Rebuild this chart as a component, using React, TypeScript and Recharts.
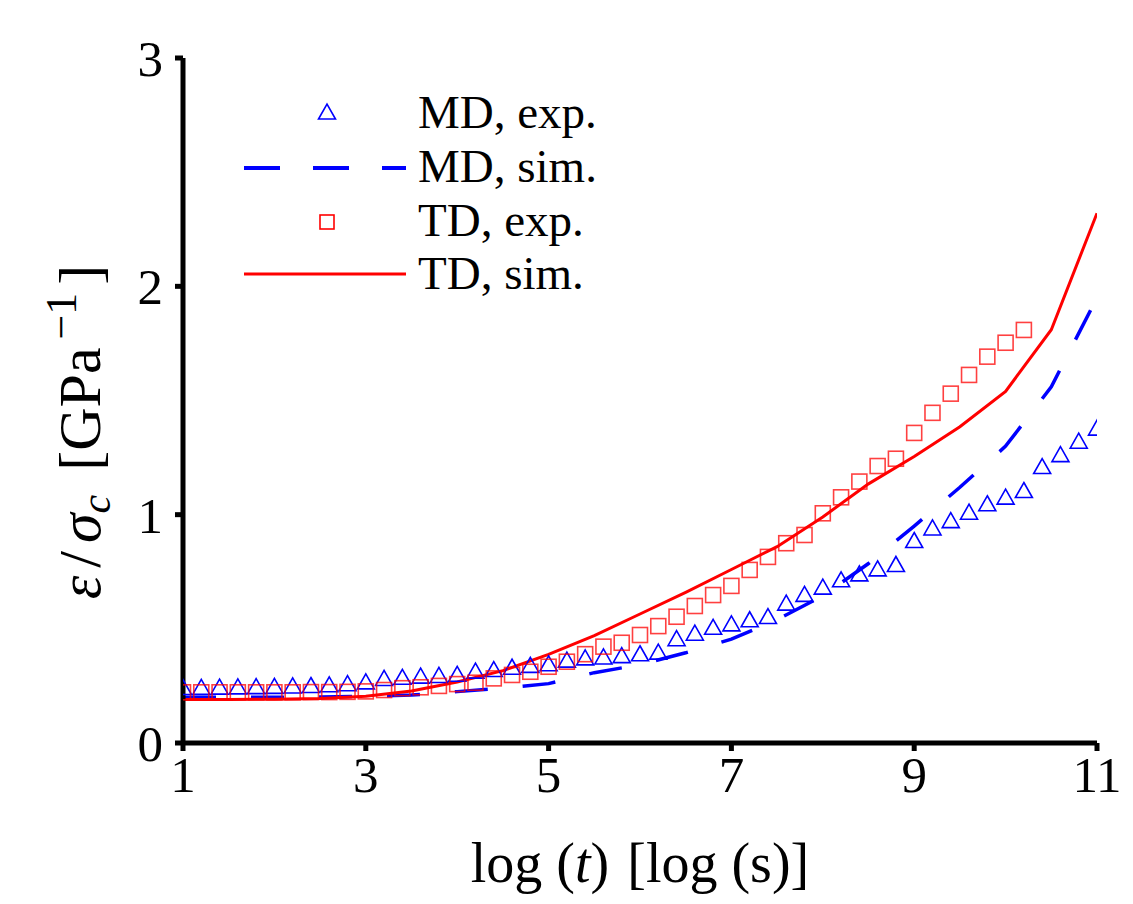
import React from "react";
import {
  ComposedChart,
  Line,
  Scatter,
  XAxis,
  YAxis,
  Legend,
} from "recharts";

const FONT = '"Liberation Serif", "DejaVu Serif", serif';
const BLUE = "#0000ff";
const RED = "#ff0000";

// log(t) ticks and eps/sigma_c ticks
const xTicks = [1, 3, 5, 7, 9, 11];
const yTicks = [0, 1, 2, 3];

// MD, exp.
const mdExpT = [
  1.0, 1.2, 1.4, 1.6, 1.8, 2.0, 2.2, 2.4, 2.6, 2.8, 3.0, 3.2, 3.4, 3.6, 3.8, 4.0, 4.2,
  4.4, 4.6, 4.8, 5.0, 5.2, 5.4, 5.6, 5.8, 6.0, 6.2, 6.4, 6.6, 6.8, 7.0, 7.2, 7.4, 7.6,
  7.8, 8.0, 8.2, 8.4, 8.6, 8.8, 9.0, 9.2, 9.4, 9.6, 9.8, 10.0, 10.2, 10.4, 10.6, 10.8, 11.0,
];
const mdExpEps = [
  0.245, 0.246, 0.247, 0.248, 0.249, 0.25, 0.252, 0.254, 0.257, 0.262, 0.27, 0.285, 0.29,
  0.295, 0.298, 0.303, 0.317, 0.324, 0.334, 0.342, 0.349, 0.365, 0.375, 0.379, 0.385, 0.393,
  0.4, 0.459, 0.483, 0.509, 0.524, 0.542, 0.556, 0.615, 0.653, 0.685, 0.717, 0.743, 0.765,
  0.784, 0.889, 0.944, 0.976, 1.013, 1.05, 1.079, 1.108, 1.213, 1.265, 1.324, 1.381,
];

// TD, exp.
const tdExpT = [
  1.0, 1.2, 1.4, 1.6, 1.8, 2.0, 2.2, 2.4, 2.6, 2.8, 3.0, 3.2, 3.4, 3.6, 3.8, 4.0, 4.2,
  4.4, 4.6, 4.8, 5.0, 5.2, 5.4, 5.6, 5.8, 6.0, 6.2, 6.4, 6.6, 6.8, 7.0, 7.2, 7.4, 7.6,
  7.8, 8.0, 8.2, 8.4, 8.6, 8.8, 9.0, 9.2, 9.4, 9.6, 9.8, 10.0, 10.2,
];
const tdExpEps = [
  0.222, 0.222, 0.222, 0.222, 0.222, 0.222, 0.222, 0.223, 0.223, 0.224, 0.226, 0.232, 0.24,
  0.244, 0.25, 0.258, 0.264, 0.283, 0.298, 0.312, 0.334, 0.356, 0.389, 0.422, 0.439, 0.473,
  0.512, 0.553, 0.6, 0.648, 0.688, 0.758, 0.815, 0.875, 0.911, 1.006, 1.076, 1.145, 1.213,
  1.245, 1.358, 1.446, 1.53, 1.612, 1.692, 1.753, 1.809,
];

// simulations
const simT = [1, 1.5, 2, 2.5, 3, 3.5, 4, 4.5, 5, 5.5, 6, 6.5, 7, 7.5, 8, 8.5, 9, 9.5, 10, 10.5, 11];
const mdSimEps = [
  0.2, 0.2, 0.2, 0.202, 0.204, 0.21, 0.225, 0.24, 0.26, 0.308, 0.343, 0.395, 0.455, 0.54,
  0.645, 0.786, 0.95, 1.12, 1.3, 1.56, 1.95,
];
const tdSimEps = [
  0.19, 0.19, 0.192, 0.195, 0.205, 0.228, 0.267, 0.317, 0.388, 0.47, 0.565, 0.66, 0.76,
  0.86, 0.99, 1.135, 1.255, 1.385, 1.54, 1.81, 2.32,
];

const toRows = (xs: number[], ys: number[]) => xs.map((x, i) => ({ x, y: ys[i] }));

const mdExp = toRows(mdExpT, mdExpEps);
const tdExp = toRows(tdExpT, tdExpEps);
const mdSim = toRows(simT, mdSimEps);
const tdSim = toRows(simT, tdSimEps);

const Triangle = (props: any) => {
  const { cx, cy } = props;
  if (cx == null || cy == null) return null;
  return (
    <path
      d={`M${cx},${cy - 7.5}L${cx + 8.5},${cy + 7.5}L${cx - 8.5},${cy + 7.5}Z`}
      fill="none"
      stroke={BLUE}
      strokeWidth={1.6}
    />
  );
};

const Square = (props: any) => {
  const { cx, cy } = props;
  if (cx == null || cy == null) return null;
  return (
    <rect
      x={cx - 7.5}
      y={cy - 7.5}
      width={15}
      height={15}
      fill="none"
      stroke={RED}
      strokeOpacity={0.75}
      strokeWidth={1.6}
    />
  );
};

const LegendBox = () => (
  <svg width={420} height={220} style={{ display: "block" }}>
    <path d="M88.5,39L105.5,39L97,24Z" fill="none" stroke={BLUE} strokeWidth={1.6} />
    <line x1={14} x2={176} y1={88} y2={88} stroke={BLUE} strokeWidth={4} strokeDasharray="36 33" />
    <rect x={90} y={135} width={14} height={14} fill="none" stroke={RED} strokeWidth={1.6} />
    <line x1={14} x2={176} y1={194} y2={194} stroke={RED} strokeWidth={3} />
    <g fontFamily={FONT} fontSize={47} fill="#000">
      <text x={188} y={48}>MD, exp.</text>
      <text x={188} y={102}>MD, sim.</text>
      <text x={188} y={156}>TD, exp.</text>
      <text x={188} y={209}>TD, sim.</text>
    </g>
  </svg>
);

const XLabel = () => (
  <text x={640} y={882} textAnchor="middle" fontFamily={FONT} fontSize={56} fill="#000">
    log (<tspan fontStyle="italic">t</tspan>)<tspan dx={18}>[log (s)]</tspan>
  </text>
);

const YLabel = () => (
  <text
    x={100}
    y={432}
    textAnchor="middle"
    transform="rotate(-90, 100, 432)"
    fontFamily={FONT}
    fontSize={60}
    fill="#000"
  >
    <tspan fontStyle="italic">ε</tspan>
    <tspan dx={8}>/</tspan>
    <tspan dx={8} fontStyle="italic">σ</tspan>
    <tspan fontStyle="italic" fontSize={42} dy={10}>c</tspan>
    <tspan dx={24} dy={-10}>[GPa</tspan>
    <tspan dx={8} fontSize={44} dy={-24}>−1</tspan>
    <tspan dx={8} dy={24}>]</tspan>
  </text>
);

export default function App() {
  return (
    <div style={{ position: "absolute", left: 0, top: 0, background: "#fff" }}>
      <ComposedChart
        width={1133}
        height={904}
        margin={{ top: 58, right: 36, bottom: 81, left: 83 }}
      >
        <XAxis
          dataKey="x"
          type="number"
          domain={[1, 11]}
          ticks={xTicks}
          allowDataOverflow
          height={80}
          axisLine={{ stroke: "#000", strokeWidth: 5 }}
          tickLine={{ stroke: "#000", strokeWidth: 5 }}
          tickSize={8}
          tickMargin={5}
          tick={{ fontSize: 51, fontFamily: FONT, fill: "#000" }}
          label={{ content: <XLabel /> }}
        />
        <YAxis
          dataKey="y"
          type="number"
          domain={[0, 3]}
          ticks={yTicks}
          allowDataOverflow
          width={100}
          axisLine={{ stroke: "#000", strokeWidth: 5 }}
          tickLine={{ stroke: "#000", strokeWidth: 5 }}
          tickSize={8}
          tickMargin={12}
          tick={{ fontSize: 51, fontFamily: FONT, fill: "#000" }}
          label={{ content: <YLabel /> }}
        />
        <Scatter
          name="MD, exp."
          data={mdExp}
          dataKey="y"
          shape={<Triangle />}
          isAnimationActive={false}
        />
        <Line
          name="MD, sim."
          data={mdSim}
          dataKey="y"
          type="linear"
          stroke={BLUE}
          strokeWidth={3.5}
          strokeDasharray="33 35"
          dot={false}
          activeDot={false}
          isAnimationActive={false}
        />
        <Scatter
          name="TD, exp."
          data={tdExp}
          dataKey="y"
          shape={<Square />}
          isAnimationActive={false}
        />
        <Line
          name="TD, sim."
          data={tdSim}
          dataKey="y"
          type="linear"
          stroke={RED}
          strokeWidth={3}
          dot={false}
          activeDot={false}
          isAnimationActive={false}
        />
        <Legend
          layout="vertical"
          align="center"
          verticalAlign="middle"
          wrapperStyle={{ left: 230, top: 80, width: 420, height: 220 }}
          content={<LegendBox />}
        />
      </ComposedChart>
    </div>
  );
}
